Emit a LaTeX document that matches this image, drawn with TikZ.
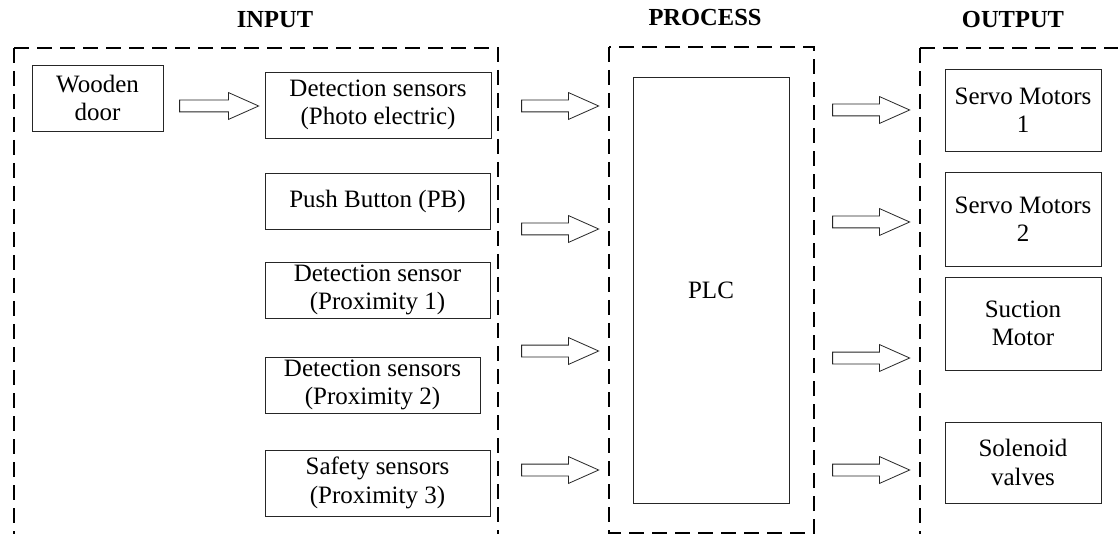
\documentclass[tikz,border=0pt]{standalone}
\usepackage{fontspec}
\setmainfont{Liberation Serif}
\usetikzlibrary{shapes.arrows}
\begin{document}
\begin{tikzpicture}[x=1pt,y=-1pt,
  box/.style={draw=black!85, line width=0.8pt, align=center, inner sep=0pt,
    font=\fontsize{25}{28.5}\selectfont},
  grp/.style={draw=black, line width=2pt, dash pattern=on 15pt off 8pt},
  ttl/.style={font=\bfseries\fontsize{24.5}{28}\selectfont, anchor=base, inner sep=0pt},
  barrow/.style={single arrow, draw=black!85, fill=white, line width=0.8pt,
    inner sep=5.5pt, single arrow head extend=7.5pt, single arrow tip angle=48,
    minimum height=#1}]
\useasboundingbox (0,0) rectangle (1118,534);
\clip (0,0) rectangle (1118,534);
\fill[white] (0,0) rectangle (1118,534);

% titles
\node[ttl] (tin)  at (275,28) {INPUT};
\node[ttl] (tpro) at (705,26) {PROCESS};
\node[ttl] (tout) at (1013,28) {OUTPUT};

% group frames
\draw[grp] (14,48) -- (14,600);
\draw[grp] (14,48) -- (498,48) -- (498,600);
\draw[grp] (609,47) rectangle (814,533);
\draw[grp] (920,48) -- (920,600);
\draw[grp] (920,48) -- (1200,48);

% input boxes
\node[box, minimum width=131pt, minimum height=66pt] (wood)  at (97.5,98) {Wooden\\door};
\node[box, minimum width=226pt, minimum height=66pt] (det1)  at (378,105) {Detection sensors\\(Photo electric)};
\node[box, minimum width=225pt, minimum height=56pt] (pb)    at (377.5,201) {Push Button (PB)};
\node[box, minimum width=225pt, minimum height=56pt] (prox1) at (377.5,290) {Detection sensor\\(Proximity 1)};
\node[box, minimum width=215pt, minimum height=56pt] (prox2) at (372.5,385) {Detection sensors\\(Proximity 2)};
\node[box, minimum width=225pt, minimum height=66pt] (safe)  at (377.5,483) {Safety sensors\\(Proximity 3)};

% process
\node[box, minimum width=156pt, minimum height=426pt] (plc) at (711,290) {PLC};

% outputs
\node[box, minimum width=156pt, minimum height=82pt] (sm1) at (1023,110) {Servo Motors\\1};
\node[box, minimum width=156pt, minimum height=94pt] (sm2) at (1023,219) {Servo Motors\\2};
\node[box, minimum width=156pt, minimum height=93pt] (suc) at (1023,323.5) {Suction\\Motor};
\node[box, minimum width=156pt, minimum height=81pt] (sol) at (1023,462.5) {Solenoid\\valves};

% block arrows
\node[barrow=79pt] (a0) at (212.5,106) {};
\node[barrow=77pt] (i1) at (553.5,106) {};
\node[barrow=77pt] (i2) at (553.5,229) {};
\node[barrow=77pt] (i3) at (553.5,351) {};
\node[barrow=77pt] (i4) at (553.5,470) {};
\node[barrow=77pt] (o1) at (864.5,110) {};
\node[barrow=77pt] (o2) at (864.5,222) {};
\node[barrow=77pt] (o3) at (864.5,358) {};
\node[barrow=77pt] (o4) at (864.5,470) {};
\end{tikzpicture}
\end{document}
